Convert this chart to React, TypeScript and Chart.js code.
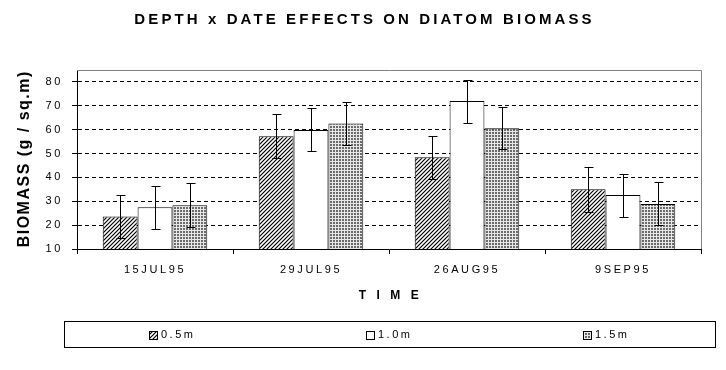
import React, { useEffect, useRef } from "react";
import { Chart, registerables } from "chart.js";

Chart.register(...registerables);

// ---- data ----
const TITLE = "DEPTH x DATE EFFECTS ON DIATOM BIOMASS";
const X_TITLE = "TIME";
const Y_TITLE = "BIOMASS (g / sq.m)";
const categories = ["15JUL95", "29JUL95", "26AUG95", "9SEP95"];
const seriesLabels = ["0.5m", "1.0m", "1.5m"];
const depth05 = [23.6, 57.2, 48.4, 35.0];
const depth10 = [27.5, 59.9, 72.0, 32.6];
const depth15 = [28.3, 62.6, 60.6, 28.9];
const err05 = [9.1, 9.2, 9.1, 9.3];
const err10 = [9.1, 9.0, 9.0, 9.0];
const err15 = [9.2, 9.1, 8.9, 9.0];
const Y_MIN = 10;
const Y_MAX = 85;
const Y_STEP = 10;

const FONT = '"Liberation Sans", Arial, sans-serif';

function hatchPattern(ctx: CanvasRenderingContext2D): CanvasPattern {
  const c = document.createElement("canvas");
  c.width = 4;
  c.height = 4;
  const g = c.getContext("2d")!;
  g.fillStyle = "#fff";
  g.fillRect(0, 0, 4, 4);
  g.strokeStyle = "#000";
  g.lineWidth = 1.2;
  g.beginPath();
  g.moveTo(-1, 5);
  g.lineTo(5, -1);
  g.moveTo(-1, 1);
  g.lineTo(1, -1);
  g.moveTo(3, 5);
  g.lineTo(5, 3);
  g.stroke();
  return ctx.createPattern(c, "repeat")!;
}

function gridPattern(ctx: CanvasRenderingContext2D): CanvasPattern {
  const c = document.createElement("canvas");
  c.width = 3;
  c.height = 3;
  const g = c.getContext("2d")!;
  g.fillStyle = "#e8e8e8";
  g.fillRect(0, 0, 3, 3);
  g.fillStyle = "#6a6a6a";
  g.fillRect(0, 0, 2, 2);
  return ctx.createPattern(c, "repeat")!;
}

const errorBarPlugin = {
  id: "errorBars",
  afterDatasetsDraw(chart: any) {
    const ctx: CanvasRenderingContext2D = chart.ctx;
    const y = chart.scales.y;
    ctx.save();
    ctx.strokeStyle = "#000";
    ctx.lineWidth = 1;
    chart.data.datasets.forEach((ds: any, i: number) => {
      const meta = chart.getDatasetMeta(i);
      meta.data.forEach((bar: any, j: number) => {
        const v = ds.data[j];
        const e = ds.errors[j];
        const x = Math.round(bar.x) + 0.5;
        const yt = Math.round(y.getPixelForValue(v + e)) + 0.5;
        const yb = Math.round(y.getPixelForValue(v - e)) + 0.5;
        ctx.beginPath();
        ctx.moveTo(x, yt);
        ctx.lineTo(x, yb);
        ctx.moveTo(x - 4, yt);
        ctx.lineTo(x + 5, yt);
        ctx.moveTo(x - 4, yb);
        ctx.lineTo(x + 5, yb);
        ctx.stroke();
      });
    });
    ctx.restore();
  },
};

const decorPlugin = {
  id: "decor",
  beforeUpdate(chart: any) {
    chart.ctx.letterSpacing = "2.6px";
  },
  beforeDraw(chart: any) {
    const ctx: CanvasRenderingContext2D = chart.ctx;
    (ctx as any).letterSpacing = "2.6px";
    ctx.save();
    ctx.fillStyle = "#fff";
    ctx.fillRect(0, 0, chart.width, chart.height);
    ctx.restore();
  },
  afterDraw(chart: any) {
    const ctx: CanvasRenderingContext2D = chart.ctx;
    const { left, right, top, bottom } = chart.chartArea;
    ctx.save();
    // grey frame top/right
    ctx.strokeStyle = "#808080";
    ctx.lineWidth = 1;
    ctx.beginPath();
    ctx.moveTo(left, top + 0.5);
    ctx.lineTo(right + 0.5, top + 0.5);
    ctx.lineTo(right + 0.5, bottom);
    ctx.stroke();

    ctx.fillStyle = "#000";
    ctx.textBaseline = "middle";
    ctx.textAlign = "center";

    // main title
    ctx.font = `bold 15px ${FONT}`;
    (ctx as any).letterSpacing = "3.1px";
    ctx.fillText(TITLE, chart.width / 2 + 1.5, 20);

    // x title
    ctx.font = `bold 12px ${FONT}`;
    (ctx as any).letterSpacing = "10.5px";
    ctx.fillText(X_TITLE, (left + right) / 2 + 5, 296);

    // y title
    ctx.save();
    ctx.translate(25, (top + bottom) / 2);
    ctx.rotate(-Math.PI / 2);
    ctx.font = `bold 16px ${FONT}`;
    (ctx as any).letterSpacing = "1.5px";
    ctx.fillText(Y_TITLE, 0.75, 0);
    ctx.restore();

    // legend box
    const bx0 = 64;
    const bx1 = 715;
    const by0 = 321;
    const by1 = 347;
    ctx.strokeStyle = "#000";
    ctx.lineWidth = 1;
    ctx.strokeRect(bx0 + 0.5, by0 + 0.5, bx1 - bx0, by1 - by0);
    ctx.font = `11px ${FONT}`;
    (ctx as any).letterSpacing = "2.5px";
    ctx.textAlign = "left";
    const cy = (by0 + by1) / 2 + 0.5;
    const third = (bx1 - bx0) / 3;
    chart.data.datasets.forEach((ds: any, i: number) => {
      const tw = ctx.measureText(ds.label).width;
      const total = 8 + 4 + tw;
      const cx = bx0 + third * (i + 0.5);
      const x0 = Math.round(cx - total / 2);
      ctx.fillStyle = ds.backgroundColor;
      ctx.fillRect(x0, Math.round(cy - 4), 8, 8);
      ctx.strokeStyle = "#000";
      ctx.strokeRect(x0 + 0.5, Math.round(cy - 4) + 0.5, 8, 8);
      ctx.fillStyle = "#000";
      ctx.fillText(ds.label, x0 + 12, cy);
    });
    ctx.restore();
  },
};

export default function App() {
  const ref = useRef<HTMLCanvasElement>(null);
  useEffect(() => {
    document.body.style.margin = "0";
    const canvas = ref.current!;
    const ctx = canvas.getContext("2d")!;
    const hatch = hatchPattern(ctx);
    const grid = gridPattern(ctx);
    const chart = new Chart(canvas, {
      type: "bar",
      data: {
        labels: categories,
        datasets: [
          {
            label: seriesLabels[0],
            data: depth05,
            errors: err05,
            backgroundColor: hatch,
            borderColor: "#000",
            borderWidth: 1,
          },
          {
            label: seriesLabels[1],
            data: depth10,
            errors: err10,
            backgroundColor: "#fff",
            borderColor: "#000",
            borderWidth: 1,
          },
          {
            label: seriesLabels[2],
            data: depth15,
            errors: err15,
            backgroundColor: grid,
            borderColor: "#000",
            borderWidth: 1,
          },
        ] as any,
      },
      options: {
        responsive: false,
        animation: false,
        devicePixelRatio: 1,
        layout: { padding: { top: 70, right: 25, bottom: 81, left: 0 } },
        datasets: {
          bar: { categoryPercentage: 0.67, barPercentage: 1.0 },
        } as any,
        plugins: {
          legend: { display: false },
          title: { display: false },
          tooltip: { enabled: false },
        },
        scales: {
          x: {
            type: "category",
            offset: true,
            grid: {
              display: true,
              drawOnChartArea: false,
              drawTicks: true,
              tickLength: 5,
              color: "#000",
              offset: true,
            },
            border: { display: true, color: "#000", width: 1 },
            ticks: {
              color: "#000",
              font: { family: FONT, size: 11 },
              padding: 9,
              maxRotation: 0,
              autoSkip: false,
            },
            afterFit: (s: any) => {
              s.height = 40;
            },
          },
          y: {
            min: Y_MIN,
            max: Y_MAX,
            ticks: {
              stepSize: Y_STEP,
              includeBounds: false,
              color: "#000",
              font: { family: FONT, size: 11 },
              padding: 9,
            },
            grid: {
              color: (c: any) =>
                c.tick && c.tick.value === Y_MIN ? "rgba(0,0,0,0)" : "#000",
              tickColor: "#000",
              tickLength: 5,
              tickBorderDash: [],
              drawTicks: true,
            },
            border: { display: true, color: "#000", width: 1, dash: [4, 3] },
            afterFit: (s: any) => {
              s.width = 77;
            },
          },
        },
      } as any,
      plugins: [decorPlugin, errorBarPlugin],
    });
    return () => chart.destroy();
  }, []);
  return (
    <canvas
      ref={ref}
      width={726}
      height={370}
      style={{ display: "block", width: 726, height: 370 }}
    />
  );
}
